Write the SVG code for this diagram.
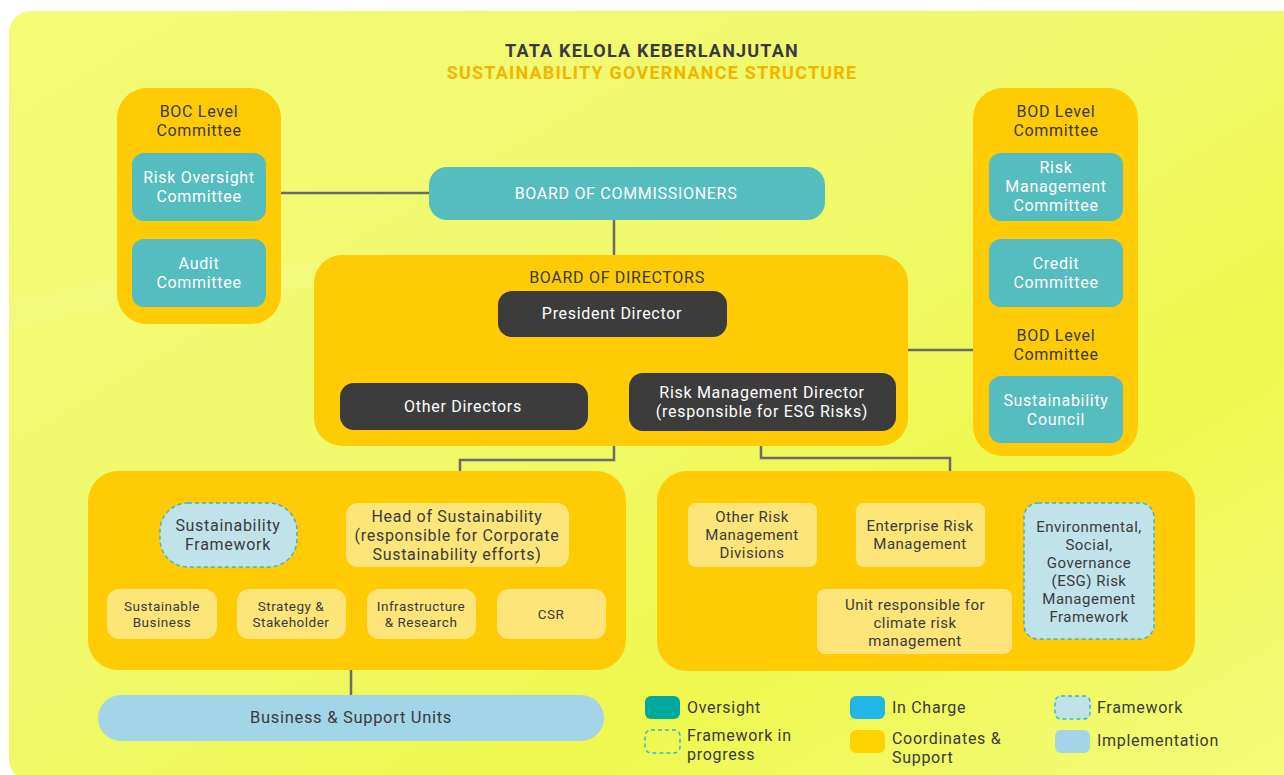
<svg xmlns="http://www.w3.org/2000/svg" width="1284" height="775" viewBox="0 0 1284 775">
<defs>
<linearGradient id="bg" x1="0" y1="0" x2="1" y2="1">
<stop offset="0" stop-color="#f3fb78"/>
<stop offset="0.45" stop-color="#eff96a"/>
<stop offset="0.7" stop-color="#eef84e"/>
<stop offset="1" stop-color="#f3fb7c"/>
</linearGradient>
<style>
text{font-family:Roboto,"Liberation Sans",sans-serif;font-size:16px;font-weight:400;letter-spacing:0.7px;fill:#3a3a3a;text-anchor:middle}
.w{fill:#ffffff}
.pan{fill:#ffcb05}
.teal{fill:#55bcc0}
.dark{fill:#3c3c3c}
.lt{fill:#fde57a}
.fw{fill:#c0e3ea;stroke:#3ab4d6;stroke-width:1.5;stroke-dasharray:4 3}
.impl{fill:#a3d5e8}
.ln{fill:none;stroke:#6b6b6b;stroke-width:2.5}
.sm{font-size:13.5px;letter-spacing:0.5px}
.dn{font-size:15px;letter-spacing:0.5px}
.lg{text-anchor:start;font-size:16px}
.tt{font-weight:700;font-size:18px;letter-spacing:1.2px}
</style>
</defs>
<rect x="0" y="0" width="1284" height="775" fill="#ffffff"/>
<rect x="9" y="11" width="1300" height="770" rx="22" fill="url(#bg)"/>
<path d="M9 300 C 150 270, 260 255, 330 265 L 330 290 C 250 285, 140 300, 9 330 Z" fill="#f6fc9c" opacity="0.3"/>

<g id="title">
<text class="tt" x="652" y="57" style="fill:#3a3a3a">TATA KELOLA KEBERLANJUTAN</text>
<text class="tt" x="652" y="79" style="fill:#f5b400">SUSTAINABILITY GOVERNANCE STRUCTURE</text>
</g>

<g id="connectors">
<path class="ln" d="M281 193 H429"/>
<path class="ln" d="M614 220 V255"/>
<path class="ln" d="M614 337 V460 H460 V503"/>
<path class="ln" d="M614 360 H761 V373"/>
<path class="ln" d="M761 431 V458 H950 V471"/>
<path class="ln" d="M908 350 H973"/>
<path class="ln" d="M460 567 V578 M161 590 V578 H552 V590 M292 578 V590 M422 578 V590"/>
<path class="ln" d="M351 670 V695"/>
<path class="ln" d="M985 534 H1024"/>
<path class="ln" d="M920 567 V589"/>
</g>

<g id="boc-level-committee">
<rect class="pan" x="117" y="88" width="164" height="236" rx="30"/>
<text x="199" y="117">BOC Level</text>
<text x="199" y="136">Committee</text>
</g>
<g id="risk-oversight-committee">
<rect class="teal" x="132" y="153" width="134" height="68" rx="12"/>
<text class="w" x="199" y="183">Risk Oversight</text>
<text class="w" x="199" y="202">Committee</text>
</g>
<g id="audit-committee">
<rect class="teal" x="132" y="239" width="134" height="68" rx="12"/>
<text class="w" x="199" y="269">Audit</text>
<text class="w" x="199" y="288">Committee</text>
</g>

<g id="board-of-commissioners">
<rect class="teal" x="429" y="167" width="396" height="53" rx="18"/>
<text class="w" x="626" y="199">BOARD OF COMMISSIONERS</text>
</g>

<g id="board-of-directors">
<rect class="pan" x="314" y="255" width="594" height="191" rx="28"/>
<text x="617" y="283">BOARD OF DIRECTORS</text>
</g>
<g id="president-director">
<rect class="dark" x="498" y="291" width="229" height="46" rx="14"/>
<text class="w" x="612" y="319">President Director</text>
</g>
<g id="other-directors">
<rect class="dark" x="340" y="383" width="248" height="47" rx="14"/>
<text class="w" x="463" y="412">Other Directors</text>
</g>
<g id="risk-management-director">
<rect class="dark" x="629" y="373" width="267" height="58" rx="14"/>
<text class="w" x="762" y="398">Risk Management Director</text>
<text class="w" x="762" y="417">(responsible for ESG Risks)</text>
</g>

<g id="bod-level-committee">
<rect class="pan" x="973" y="88" width="165" height="368" rx="30"/>
<text x="1056" y="117">BOD Level</text>
<text x="1056" y="136">Committee</text>
<text x="1056" y="341">BOD Level</text>
<text x="1056" y="360">Committee</text>
</g>
<g id="risk-management-committee">
<rect class="teal" x="989" y="153" width="134" height="68" rx="12"/>
<text class="w" x="1056" y="173">Risk</text>
<text class="w" x="1056" y="192">Management</text>
<text class="w" x="1056" y="211">Committee</text>
</g>
<g id="credit-committee">
<rect class="teal" x="989" y="239" width="134" height="68" rx="12"/>
<text class="w" x="1056" y="269">Credit</text>
<text class="w" x="1056" y="288">Committee</text>
</g>
<g id="sustainability-council">
<rect class="teal" x="989" y="376" width="134" height="67" rx="12"/>
<text class="w" x="1056" y="406">Sustainability</text>
<text class="w" x="1056" y="425">Council</text>
</g>

<g id="sustainability-division">
<rect class="pan" x="88" y="471" width="538" height="199" rx="30"/>
</g>
<g id="sustainability-framework">
<rect class="fw" x="160" y="503" width="137" height="64" rx="28"/>
<text x="228" y="531">Sustainability</text>
<text x="228" y="550">Framework</text>
</g>
<g id="head-of-sustainability">
<rect class="lt" x="346" y="503" width="223" height="64" rx="12"/>
<text x="457" y="522">Head of Sustainability</text>
<text x="457" y="541">(responsible for Corporate</text>
<text x="457" y="560">Sustainability efforts)</text>
</g>
<g id="sustainable-business">
<rect class="lt" x="107" y="589" width="110" height="50" rx="12"/>
<text class="sm" x="162" y="611">Sustainable</text>
<text class="sm" x="162" y="627">Business</text>
</g>
<g id="strategy-stakeholder">
<rect class="lt" x="237" y="589" width="109" height="50" rx="12"/>
<text class="sm" x="291" y="611">Strategy &amp;</text>
<text class="sm" x="291" y="627">Stakeholder</text>
</g>
<g id="infrastructure-research">
<rect class="lt" x="367" y="589" width="109" height="50" rx="12"/>
<text class="sm" x="421" y="611">Infrastructure</text>
<text class="sm" x="421" y="627">&amp; Research</text>
</g>
<g id="csr">
<rect class="lt" x="497" y="589" width="109" height="50" rx="12"/>
<text class="sm" x="551" y="619">CSR</text>
</g>

<g id="business-support-units">
<rect class="impl" x="98" y="695" width="506" height="46" rx="23"/>
<text x="351" y="723" style="font-size:16.5px">Business &amp; Support Units</text>
</g>

<g id="risk-division">
<rect class="pan" x="657" y="471" width="538" height="200" rx="30"/>
</g>
<g id="other-risk-management-divisions">
<rect class="lt" x="688" y="503" width="129" height="64" rx="8"/>
<text class="dn" x="752" y="522">Other Risk</text>
<text class="dn" x="752" y="540">Management</text>
<text class="dn" x="752" y="558">Divisions</text>
</g>
<g id="enterprise-risk-management">
<rect class="lt" x="856" y="503" width="129" height="64" rx="8"/>
<text class="dn" x="920" y="531">Enterprise Risk</text>
<text class="dn" x="920" y="549">Management</text>
</g>
<g id="esg-risk-management-framework">
<rect class="fw" x="1024" y="503" width="130" height="136" rx="14"/>
<text class="dn" x="1089" y="532">Environmental,</text>
<text class="dn" x="1089" y="550">Social,</text>
<text class="dn" x="1089" y="568">Governance</text>
<text class="dn" x="1089" y="586">(ESG) Risk</text>
<text class="dn" x="1089" y="604">Management</text>
<text class="dn" x="1089" y="622">Framework</text>
</g>
<g id="climate-risk-unit">
<rect class="lt" x="817" y="589" width="195" height="65" rx="8"/>
<text class="dn" x="915" y="610">Unit responsible for</text>
<text class="dn" x="915" y="628">climate risk</text>
<text class="dn" x="915" y="646">management</text>
</g>

<g id="legend">
<rect x="645" y="696" width="35" height="23" rx="6" fill="#00a99d"/>
<text class="lg" x="687" y="713">Oversight</text>
<rect x="645" y="730" width="35" height="23" rx="6" fill="none" stroke="#3ab4d6" stroke-width="1.5" stroke-dasharray="4 3"/>
<text class="lg" x="687" y="741">Framework in</text>
<text class="lg" x="687" y="760">progress</text>
<rect x="850" y="696" width="35" height="23" rx="6" fill="#22b5e8"/>
<text class="lg" x="892" y="713">In Charge</text>
<rect x="850" y="730" width="35" height="23" rx="6" fill="#ffd200"/>
<text class="lg" x="892" y="744">Coordinates &amp;</text>
<text class="lg" x="892" y="763">Support</text>
<rect class="fw" x="1055" y="696" width="35" height="23" rx="6"/>
<text class="lg" x="1097" y="713">Framework</text>
<rect class="impl" x="1055" y="730" width="35" height="23" rx="6"/>
<text class="lg" x="1097" y="746">Implementation</text>
</g>
</svg>
